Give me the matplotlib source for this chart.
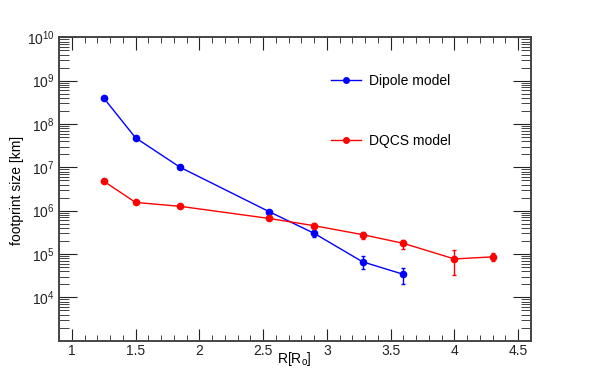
import numpy as np
import matplotlib
matplotlib.use("Agg")
import matplotlib.pyplot as plt
from matplotlib.ticker import LogLocator, MultipleLocator, NullFormatter
from matplotlib.lines import Line2D

plt.rcParams['font.family'] = ['Liberation Sans', 'DejaVu Sans']
plt.rcParams['mathtext.fontset'] = 'custom'
plt.rcParams['mathtext.rm'] = 'Liberation Sans'

# Data
r_dip = [1.25, 1.5, 1.85, 2.55, 2.9, 3.28, 3.6]
size_dip = [4.0e8, 4.8e7, 1.0e7, 9.4e5, 3.0e5, 6.6e4, 3.4e4]
lo_dip = [4.0e8, 4.8e7, 1.0e7, 9.4e5, 2.45e5, 4.4e4, 2.0e4]
hi_dip = [4.0e8, 4.8e7, 1.0e7, 9.4e5, 3.35e5, 9.0e4, 4.7e4]

r_dq = [1.25, 1.5, 1.85, 2.55, 2.9, 3.28, 3.6, 4.0, 4.3]
size_dq = [4.8e6, 1.55e6, 1.26e6, 6.6e5, 4.5e5, 2.8e5, 1.76e5, 7.7e4, 8.6e4]
lo_dq = [4.8e6, 1.55e6, 1.26e6, 6.6e5, 4.0e5, 2.25e5, 1.3e5, 3.3e4, 6.9e4]
hi_dq = [4.8e6, 1.55e6, 1.26e6, 6.6e5, 5.1e5, 3.2e5, 2.15e5, 1.21e5, 1.04e5]

fig = plt.figure(figsize=(5.9, 3.79), dpi=100)
ax = fig.add_axes([59 / 590, 1 - 340.7 / 379, (531 - 59) / 590, (340.7 - 37.3) / 379])

for r, s, lo, hi, c in [(r_dip, size_dip, lo_dip, hi_dip, 'blue'),
                        (r_dq, size_dq, lo_dq, hi_dq, 'red')]:
    s = np.array(s)
    yerr = [s - np.array(lo), np.array(hi) - s]
    ax.errorbar(r, s, yerr=yerr, color=c, marker='o', ms=4.5, lw=1,
                elinewidth=1, capsize=1.5, capthick=1)

ax.set_yscale('log')
ax.set_xlim(0.9, 4.6)
ax.set_ylim(1e3, 1e10)
ax.set_yticks([1e4, 1e5, 1e6, 1e7, 1e8, 1e9, 1e10])
ax.yaxis.set_minor_locator(LogLocator(base=10, subs=np.arange(2, 10), numticks=20))
ax.yaxis.set_minor_formatter(NullFormatter())
ax.xaxis.set_minor_locator(MultipleLocator(0.1))
ax.set_xticks([1, 1.5, 2, 2.5, 3, 3.5, 4, 4.5])
ax.set_xticklabels(['1', '1.5', '2', '2.5', '3', '3.5', '4', '4.5'])

ax.tick_params(which='both', direction='in', top=True, right=True, labelsize=10, colors='#222222')
ax.tick_params(axis='y', which='major', length=13, pad=3)
ax.tick_params(axis='y', which='minor', length=7)
ax.tick_params(axis='x', which='major', length=9, pad=2.5)
ax.tick_params(axis='x', which='minor', length=4.5)
for sp in ax.spines.values():
    sp.set_linewidth(1.4)
    sp.set_color('#444444')

fig.text(294 / 590, 1 - 359 / 379, r'R[R$_{\mathrm{o}}$]', ha='center', va='center', fontsize=10)
fig.text(17 / 590, 1 - 190 / 379, 'footprint size [km]', rotation=90, ha='center', va='center', fontsize=10)

handles = [Line2D([], [], color='blue', marker='o', ms=4, lw=1),
           Line2D([], [], color='red', marker='o', ms=4, lw=1)]
leg = ax.legend(handles, ['Dipole model', 'DQCS model'], frameon=False,
                loc='upper left', bbox_to_anchor=((318 - 59) / 472, (340.7 - 61) / 303.4),
                labelspacing=3.35, handlelength=2.2, handletextpad=0.6, fontsize=10)

fig.savefig('out.png', dpi=100)
